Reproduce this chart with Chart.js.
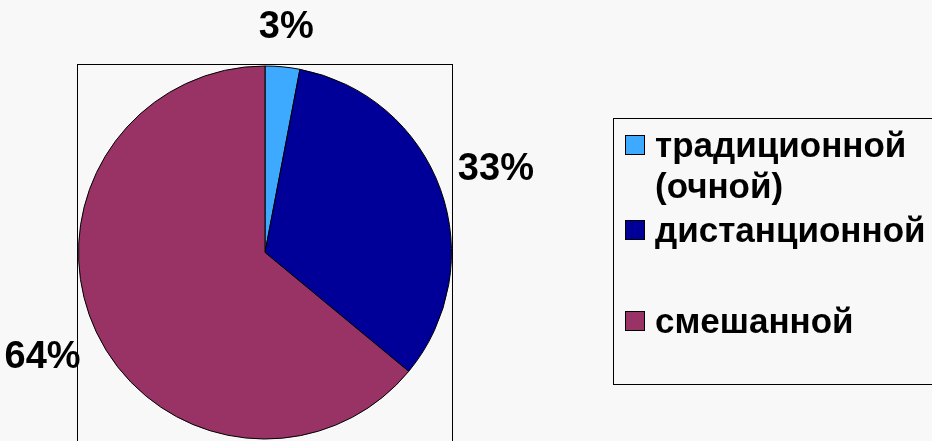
<!DOCTYPE html>
<html>
<head>
<meta charset="utf-8">
<script src="https://cdn.jsdelivr.net/npm/chart.js@4/dist/chart.umd.min.js"></script>
<style>
    html, body { margin: 0; padding: 0; background: #f8f8f8; }
    #wrap { width: 932px; height: 441px; }
</style>
</head>
<body>
<div id="wrap"><canvas id="pieChart" width="932" height="441"></canvas></div>
<script>
// Данные диаграммы
const categories = ['традиционной\n(очной)', 'дистанционной', 'смешанной'];
const shares = [3, 33, 64];
const sliceColors = ['#3DAAFF', '#000099', '#993366'];

const fontFamily = '"Liberation Sans", Arial, sans-serif';

// рамка вокруг области круга
const plotFrame = {
    id: 'plotFrame',
    beforeDatasetsDraw(chart) {
        const { ctx, chartArea } = chart;
        ctx.save();
        ctx.strokeStyle = '#000';
        ctx.lineWidth = 1;
        ctx.strokeRect(chartArea.left - 0.5, chartArea.top - 0.5,
            chartArea.right - chartArea.left + 1, chartArea.bottom - chartArea.top + 20);
        ctx.restore();
    }
};

// подписи процентов снаружи круга
const percentLabels = {
    id: 'percentLabels',
    afterDatasetsDraw(chart) {
        const { ctx } = chart;
        const meta = chart.getDatasetMeta(0);
        ctx.save();
        ctx.font = 'bold 38px ' + fontFamily;
        ctx.fillStyle = '#000';
        ctx.textAlign = 'center';
        ctx.textBaseline = 'middle';
        meta.data.forEach(function(arc, i) {
            const p = arc.getProps(['x', 'y', 'startAngle', 'endAngle', 'outerRadius'], true);
            const mid = (p.startAngle + p.endAngle) / 2;
            const text = shares[i] + '%';
            const halfW = ctx.measureText(text).width / 2;
            const halfH = 21;
            const dx = Math.cos(mid), dy = Math.sin(mid);
            const dist = p.outerRadius + 16 + Math.abs(dx) * halfW + Math.abs(dy) * halfH;
            ctx.fillText(text, p.x + dx * dist, p.y + dy * dist);
        });
        ctx.restore();
    }
};

// легенда справа в рамке
const boxLegend = {
    id: 'boxLegend',
    afterDraw(chart) {
        const { ctx } = chart;
        const ds = chart.data.datasets[0];
        const rowBaselines = [157, 242, 333];
        ctx.save();
        ctx.strokeStyle = '#000';
        ctx.lineWidth = 1;
        ctx.strokeRect(613.5, 118.5, 400, 266);
        ctx.font = 'bold 35px ' + fontFamily;
        ctx.textBaseline = 'alphabetic';
        ctx.textAlign = 'left';
        chart.data.labels.forEach(function(label, i) {
            const base = rowBaselines[i];
            ctx.fillStyle = ds.backgroundColor[i];
            ctx.fillRect(625.5, base - 21.5, 19, 19);
            ctx.strokeRect(625.5, base - 21.5, 19, 19);
            ctx.fillStyle = '#000';
            label.split('\n').forEach(function(line, j) {
                ctx.fillText(line, 655, base + j * 41);
            });
        });
        ctx.restore();
    }
};

new Chart(document.getElementById('pieChart').getContext('2d'), {
    type: 'pie',
    data: {
        labels: categories,
        datasets: [{
            data: shares,
            backgroundColor: sliceColors,
            borderColor: '#000',
            borderWidth: 1
        }]
    },
    options: {
        responsive: false,
        animation: false,
        layout: { padding: { left: 78, top: 65, right: 480, bottom: 1 } },
        plugins: {
            legend: { display: false },
            tooltip: { enabled: false }
        }
    },
    plugins: [plotFrame, percentLabels, boxLegend]
});
</script>
</body>
</html>
